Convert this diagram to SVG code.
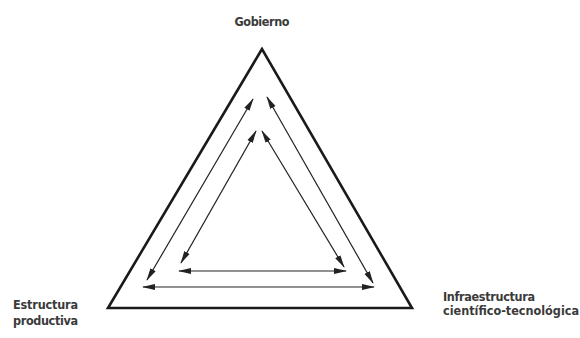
<svg xmlns="http://www.w3.org/2000/svg" width="580" height="338" viewBox="0 0 580 338">
<defs>
<style>
.lbl{font-family:"Liberation Sans Narrow","DejaVu Sans Condensed","Liberation Sans",sans-serif;font-size:12.5px;fill:#3a3a3a;font-weight:bold}
.tri{fill:none;stroke:#1a1a1a;stroke-width:2.6;stroke-linejoin:miter}
.arr{stroke:#222;stroke-width:1.2;fill:none;marker-start:url(#ah);marker-end:url(#ah)}
</style>
<marker id="ah" viewBox="0 0 13 7" refX="12" refY="3.5" markerWidth="13" markerHeight="7" markerUnits="userSpaceOnUse" orient="auto-start-reverse">
<path d="M0,0.5 L13,3.5 L0,6.5 Z" fill="#222"/>
</marker>
</defs>
<rect width="580" height="338" fill="#fff"/>
<g id="triangle">
<polygon class="tri" points="262,49 108,308 412,308"/>
</g>
<g id="gobierno"><text class="lbl" x="262" y="26" text-anchor="middle" textLength="55">Gobierno</text></g>
<g id="estructura"><text class="lbl" x="13" y="309" textLength="65">Estructura</text><text class="lbl" x="13" y="325" textLength="65">productiva</text></g>
<g id="infraestructura"><text class="lbl" x="443" y="301" textLength="92">Infraestructura</text><text class="lbl" x="443" y="315" textLength="136">científico-tecnológica</text></g>
<g id="connectors">
<line class="arr" x1="147" y1="280" x2="253" y2="99"/>
<line class="arr" x1="373" y1="283" x2="267" y2="97"/>
<line class="arr" x1="143" y1="287" x2="374" y2="287"/>
<line class="arr" x1="181" y1="263" x2="256" y2="131"/>
<line class="arr" x1="344" y1="267" x2="262" y2="131"/>
<line class="arr" x1="179" y1="271" x2="346" y2="271"/>
</g>
</svg>
